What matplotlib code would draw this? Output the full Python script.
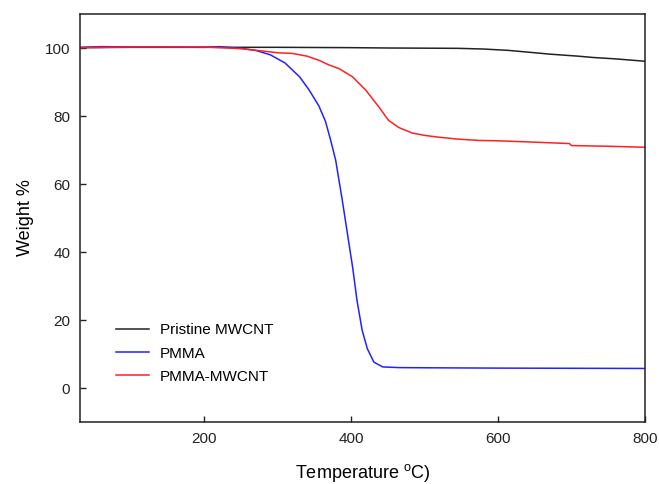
import numpy as np
import matplotlib
matplotlib.use('Agg')
import matplotlib.pyplot as plt

plt.rcParams['font.family'] = ['Liberation Sans', 'DejaVu Sans']
plt.rcParams['mathtext.fontset'] = 'custom'
plt.rcParams['mathtext.rm'] = 'Liberation Sans'

# TGA curves (temperature in C, weight in %)
t_mwcnt = [31, 100, 200, 300, 400, 450, 500, 546, 580, 614, 640, 670, 709, 730, 760, 800]
w_mwcnt = [100.1, 100.2, 100.2, 100.2, 100.1, 100.0, 99.95, 99.9, 99.7, 99.3, 98.8, 98.2, 97.6, 97.2, 96.8, 96.1]

t_pmma = [31, 60, 100, 150, 200, 220, 250, 270, 290, 310, 330, 343, 356, 365, 372, 379,
          388, 395, 402, 408, 415, 422, 431, 443, 465, 500, 600, 700, 800]
w_pmma = [100.2, 100.4, 100.3, 100.3, 100.2, 100.4, 99.9, 99.3, 98.0, 95.6, 91.5, 87.6, 83.0, 78.5, 73.0, 67.0,
          55.2, 45.4, 35.6, 25.8, 17.0, 11.6, 7.6, 6.2, 6.0, 5.95, 5.85, 5.8, 5.75]

t_comp = [31, 100, 200, 250, 280, 300, 320, 340, 356, 370, 384, 402, 420, 438, 451, 465,
          483, 500, 518, 545, 575, 600, 650, 697, 700, 750, 800]
w_comp = [100.1, 100.3, 100.3, 99.8, 99.1, 98.6, 98.4, 97.6, 96.4, 95.0, 93.9, 91.5, 87.6, 82.6, 78.7, 76.6,
          75.0, 74.3, 73.8, 73.2, 72.8, 72.7, 72.3, 71.9, 71.3, 71.1, 70.8]

labels = ['Pristine MWCNT', 'PMMA', 'PMMA-MWCNT']
colors = ['#222222', '#2222ff', '#ff2020']

fig = plt.figure(figsize=(6.59, 4.84), dpi=100)
ax = fig.add_axes([80/659, 1 - 422/484, 565/659, 408/484])

ax.plot(t_mwcnt, w_mwcnt, color=colors[0], lw=1.1, label=labels[0])
ax.plot(t_pmma, w_pmma, color=colors[1], lw=1.1, label=labels[1])
ax.plot(t_comp, w_comp, color=colors[2], lw=1.1, label=labels[2])

ax.set_xlim(31, 800)
ax.set_ylim(-10, 110)
ax.set_xticks([200, 400, 600, 800])
ax.set_yticks([0, 20, 40, 60, 80, 100])
ax.tick_params(direction='in', length=4.5, width=1, labelsize=11, pad=7,
               top=False, right=False, colors='#222222')
for s in ax.spines.values():
    s.set_linewidth(1.1)
    s.set_color('#222222')

ax.set_xlabel('Temperature $^{\\mathrm{o}}$C)', fontsize=13, labelpad=12)
ax.set_ylabel('Weight %', fontsize=13, labelpad=8)

ax.legend(loc='lower left', bbox_to_anchor=(0.039, 0.06), frameon=False, fontsize=11,
          handlelength=2.2, handletextpad=0.7, labelspacing=0.6)

fig.savefig('out.png', dpi=100)
